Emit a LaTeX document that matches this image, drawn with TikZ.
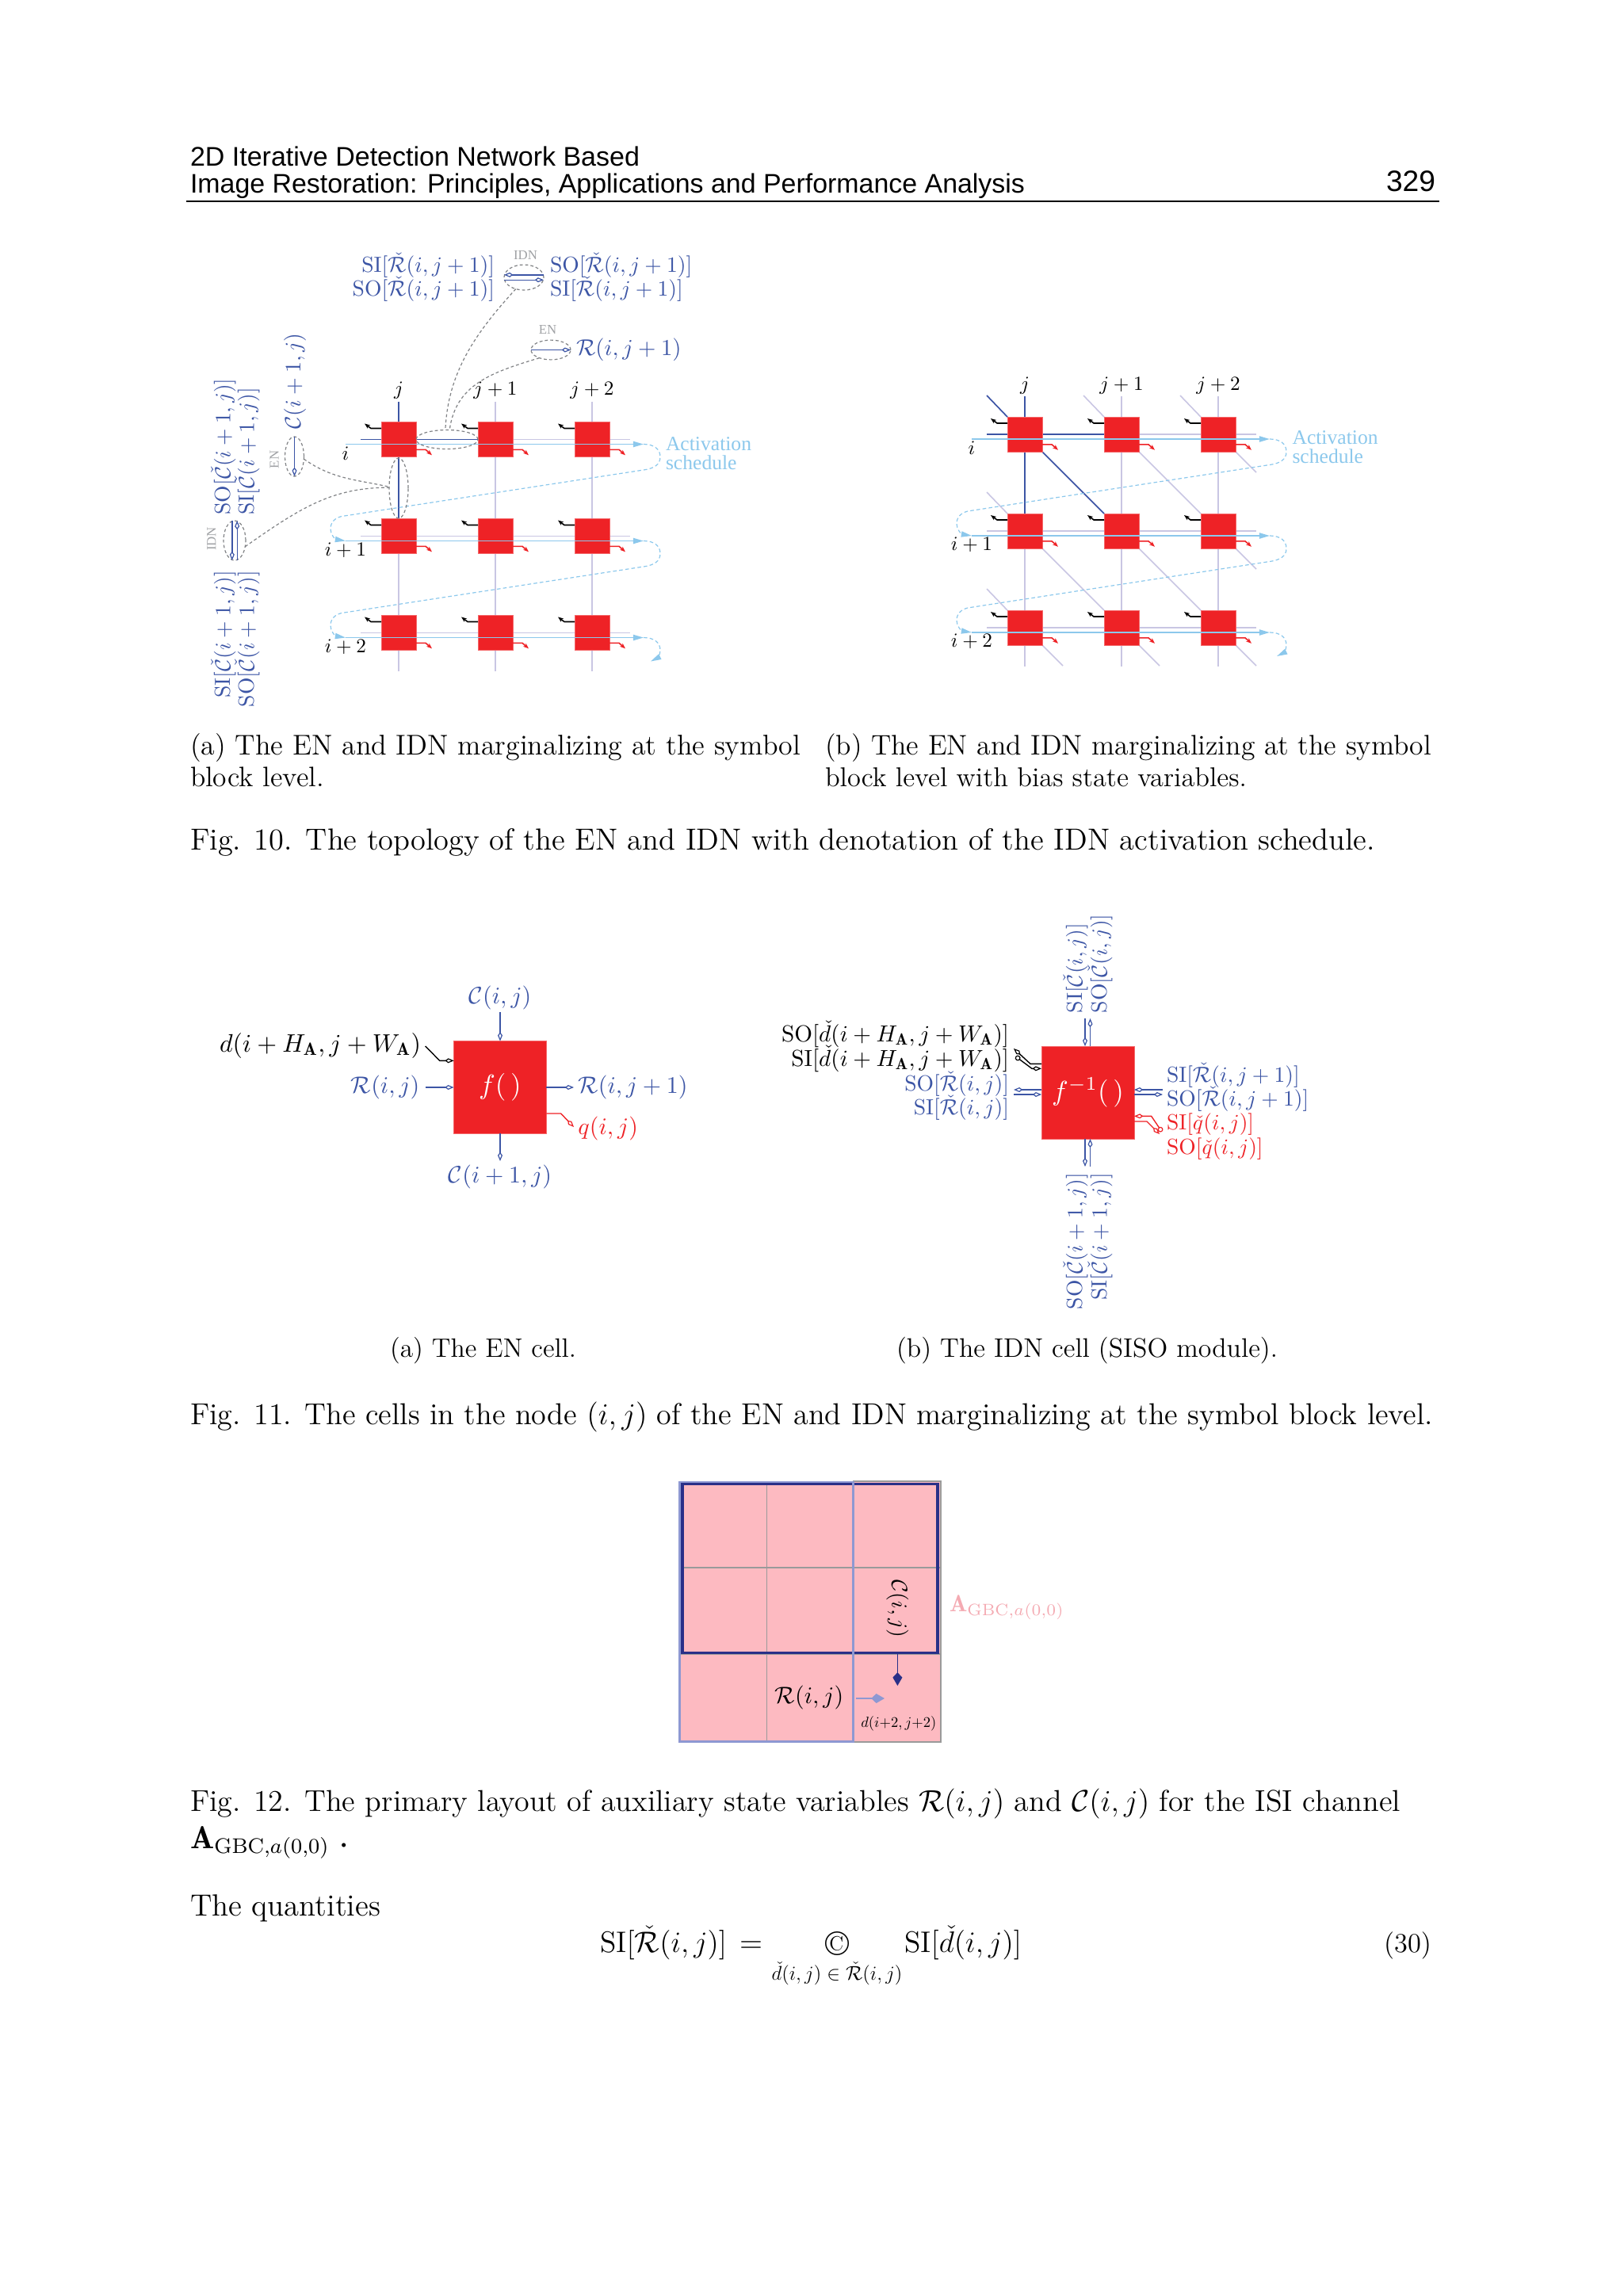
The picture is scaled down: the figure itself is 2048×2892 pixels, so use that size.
\documentclass[tikz,border=0pt]{standalone}
\usepackage{fix-cm}
\usepackage{graphicx}
\usepackage{amsmath}
\usepackage{fontspec}
\newfontfamily\hdrfont{Liberation Sans}
\newfontfamily\smallserif{Liberation Serif}
\usetikzlibrary{arrows.meta,shapes.geometric,backgrounds}
\definecolor{cellred}{HTML}{EE2226}
\definecolor{celledge}{HTML}{F4686A}
\definecolor{inkblue}{HTML}{3C55A5}
\definecolor{gridpurple}{HTML}{C9C6E3}
\definecolor{schedblue}{HTML}{8CC8EC}
\definecolor{notegray}{HTML}{808285}
\definecolor{labelgray}{HTML}{A0A2A5}
\definecolor{boxpink}{HTML}{FDBAC1}
\definecolor{softpink}{HTML}{F4AAB2}
\definecolor{navybox}{HTML}{2A3088}
\definecolor{paleblue}{HTML}{8E98D2}
\definecolor{greyline}{HTML}{9A9A9A}
\newcommand{\fitw}[2]{\resizebox{\dimexpr#1pt/4\relax}{!}{#2}}
% 10pt mathematics scaled down, as the labels of the reference are
\newcommand{\mm}[2]{\scalebox{#1}{\fontsize{10}{12}\selectfont$#2$}}
\newcommand{\mySI}[1]{\mathrm{SI}[#1]}
\newcommand{\mySO}[1]{\mathrm{SO}[#1]}
\newcommand{\cR}{\check{\mathcal R}}
\newcommand{\cC}{\check{\mathcal C}}
\tikzset{
  every node/.style={inner sep=0pt,outer sep=0pt},
  kopen/.tip={Kite[length=2.8pt,width=1.5pt,inset=1pt,fill=white,line width=.3pt]},
  kfill/.tip={Kite[length=4.2pt,width=3pt,inset=1.6pt]},
  copen/.tip={Circle[length=1.7pt,fill=white,line width=.3pt]},
  ktiny/.tip={Stealth[length=1.7pt,width=1.3pt,inset=.4pt]},
  stip/.tip={Stealth[length=3.3pt,width=1.8pt,inset=0pt]},
  cellbox/.style={fill=cellred,draw=celledge,line width=.2pt,minimum width=11pt,minimum height=11pt},
  bigcell/.style={fill=cellred,draw=celledge,line width=.2pt,minimum width=29.2pt,minimum height=29.2pt,text=white},
  gridline/.style={draw=gridpurple,line width=.4pt},
  linkline/.style={draw=inkblue,line width=.4pt},
  schedline/.style={draw=schedblue,line width=.45pt,-{stip}},
  schedcurve/.style={draw=schedblue,line width=.3pt,dash pattern=on 1.15pt off .8pt},
  notecurve/.style={draw=notegray,line width=.3pt,dash pattern=on .95pt off .75pt},
  noteell/.style={ellipse,draw=notegray,line width=.3pt,dash pattern=on .95pt off .75pt},
  inwire/.style={draw=black,line width=.4pt,-{ktiny}},
  outwire/.style={draw=cellred,line width=.4pt,-{ktiny}},
  bluearrow/.style={draw=inkblue,line width=.35pt,-{kopen}},
  blackarrow/.style={draw=black,line width=.35pt,-{kopen}},
  redarrow/.style={draw=cellred,line width=.35pt,-{kopen}},
  lab/.style={text=inkblue},
  dlab/.style={text=black},
  idxlab/.style={text=black},
  graylab/.style={font=\smallserif\fontsize{4.2}{5}\selectfont,text=labelgray},
  schedlab/.style={font=\smallserif\fontsize{6.4}{6.1}\selectfont,text=schedblue,align=left,anchor=west},
  bodytxt/.style={font=\fontsize{12}{14}\selectfont,anchor=base west,text=black},
  hdrtxt/.style={font=\hdrfont\fontsize{10}{12}\selectfont,anchor=base west,text=black},
}
% grid of cells: #1 prefix, #2 first-column x, #3 first-row y
\newcommand{\cellgrid}[3]{%
  \pgfmathsetmacro\xC{#2+244}
  \foreach \rw in {1,2,3}{\foreach \cl in {1,2,3}{
    \node[cellbox] (#1\rw\cl) at ({#2+122*(\cl-1)},{#3+122*(\rw-1)}) {};
  }}
  \foreach \cl/\lbl in {1/j,2/j+1,3/j+2}{
    \coordinate (#1vt\cl) at ({#2+122*(\cl-1)},{#3-48});
    \coordinate (#1vb\cl) at ({#2+122*(\cl-1)},{#3+244+48.5});
    \node[idxlab] (#1col\cl) at ({#2+122*(\cl-1)},{#3-61.5}) {\mm{.63}{\lbl}};
  }
  \foreach \rw/\lbl in {1/i,2/i+1,3/i+2}{
    \coordinate (#1hl\rw) at ({#2-48},{#3+122*(\rw-1)});
    \coordinate (#1hr\rw) at ({\xC+48},{#3+122*(\rw-1)});
    \coordinate (#1st\rw) at ({#2-67},{#3+122*(\rw-1)+6});
    \coordinate (#1en\rw) at ({\xC+65},{#3+122*(\rw-1)+6});
    \node[idxlab] (#1row\rw) at ({#2-67},{#3+122*(\rw-1)+17.5}) {\mm{.63}{\lbl}};
  }
  \begin{scope}[on background layer]
    \foreach \cl in {1,2,3}{\draw[gridline] (#1vt\cl) -- (#11\cl) -- (#12\cl) -- (#13\cl) -- (#1vb\cl);}
    \foreach \rw in {1,2,3}{\draw[gridline] (#1hl\rw) -- (#1\rw1) -- (#1\rw2) -- (#1\rw3) -- (#1hr\rw);}
  \end{scope}
  \foreach \rw in {1,2,3}{\foreach \cl in {1,2,3}{
    \draw[inwire] ([yshift=3.5pt]#1\rw\cl.west) -- ++(-13,0) -- ++(-8,-6);
    \draw[outwire] ([yshift=-3.2pt]#1\rw\cl.east) -- ++(12,0) -- ++(8,7);
  }}
  \foreach \rw in {1,2,3}{\draw[schedline] (#1st\rw) -- (#1en\rw);}
  \foreach \rw/\nx in {1/2,2/3}{
    \pgfmathsetmacro\cy{#3+122*(\rw-1)}
    \draw[schedcurve,-{stip}] (#1en\rw)
      .. controls ({\xC+78},{\cy+6}) and ({\xC+86},{\cy+12}) .. ({\xC+86},{\cy+22})
      .. controls ({\xC+86},{\cy+32}) and ({\xC+78},{\cy+36}) .. ({\xC+68},{\cy+38})
      -- ({#2-72},{\cy+97})
      .. controls ({#2-80},{\cy+99}) and ({#2-86},{\cy+104}) .. ({#2-86},{\cy+113})
      .. controls ({#2-86},{\cy+120}) and ({#2-80},{\cy+126}) .. (#1st\nx);
  }
  \draw[schedcurve,-{stip}] (#1en3)
      .. controls ({\xC+78},{#3+250}) and ({\xC+86},{#3+256}) .. ({\xC+86},{#3+266})
      .. controls ({\xC+86},{#3+272}) and ({\xC+82},{#3+276}) .. ({\xC+74},{#3+280});
}
\begin{document}
\begin{tikzpicture}[x=0.25pt,y=-0.25pt]
\useasboundingbox (0,0) rectangle (2048,2892);
% ---------- page header
\node[hdrtxt] (h1) at (240,209.5) {\fitw{567}{2D Iterative Detection Network Based}};
\node[hdrtxt] (h2) at (240,243) {\fitw{1053}{Image Restoration: Principles, Applications and Performance Analysis}};
\node[hdrtxt] (h3) at (1749,241) {\fitw{62}{329}};
\coordinate (ruleL) at (235,254); \coordinate (ruleR) at (1816,254);
\draw[line width=.4pt] (ruleL) -- (ruleR);
% ---------- Fig 10 (a)
\cellgrid{a}{503}{554.5}
\begin{scope}[on background layer]
  \draw[linkline] (avt1) -- (a11) -- (a21);
  \draw[linkline] (ahl1) -- (a11) -- (a12);
\end{scope}
\node[schedlab] (aact) at (840,572) {Activation\\schedule};
\node[lab,anchor=east] (sR1) at (624,335) {\mm{.69}{\mySI{\cR(i,j+1)}}};
\node[lab,anchor=east] (sR2) at (624,365) {\mm{.69}{\mySO{\cR(i,j+1)}}};
\node[lab,anchor=west] (sR3) at (694,335) {\mm{.69}{\mySO{\cR(i,j+1)}}};
\node[lab,anchor=west] (sR4) at (694,365) {\mm{.69}{\mySI{\cR(i,j+1)}}};
\node[noteell,minimum width=12.5pt,minimum height=8pt] (idnT) at (661,350) {};
\node[graylab] (idnTl) at (663,322) {IDN};
\draw[bluearrow] ([yshift=.8pt]idnT.east) -- ([yshift=.8pt]idnT.west);
\draw[bluearrow] ([yshift=-.8pt]idnT.west) -- ([yshift=-.8pt]idnT.east);
\node[noteell,minimum width=12.5pt,minimum height=6.2pt] (enT) at (695,441.5) {};
\node[graylab] (enTl) at (691,415.5) {EN};
\draw[bluearrow] (enT.west) -- (enT.east);
\node[lab,anchor=west] (rT) at (727,441) {\mm{.72}{\mathcal R(i,j+1)}};
\node[noteell,minimum width=19.5pt,minimum height=6pt] (hE) at (564,554.5) {};
\node[noteell,minimum width=6pt,minimum height=19pt] (vE) at (503,616) {};
\draw[notecurve] (idnT.235) .. controls (600,420) and (565,470) .. (hE.100);
\draw[notecurve] (enT.215) .. controls (620,470) and (575,485) .. (hE.75);
\node[lab,rotate=90] (cL) at (372,481) {\mm{.7}{\mathcal C(i+1,j)}};
\node[noteell,minimum width=6pt,minimum height=12.5pt] (enL) at (371.5,576) {};
\draw[bluearrow] (enL.north) -- (enL.south);
\node[graylab,rotate=90] (enLl) at (346,580) {EN};
\node[lab,rotate=90,anchor=west] (sC1) at (282,649.4) {\mm{.69}{\mySO{\cC(i+1,j)}}};
\node[lab,rotate=90,anchor=west] (sC2) at (312,649.4) {\mm{.69}{\mySI{\cC(i+1,j)}}};
\node[noteell,minimum width=7pt,minimum height=12.5pt] (idnL) at (296,682) {};
\draw[bluearrow] ([xshift=-.8pt]idnL.north) -- ([xshift=-.8pt]idnL.south);
\draw[bluearrow] ([xshift=.8pt]idnL.south) -- ([xshift=.8pt]idnL.north);
\node[graylab,rotate=90] (idnLl) at (267,680) {IDN};
\node[lab,rotate=90,anchor=east] (sC3) at (282,720) {\mm{.69}{\mySI{\cC(i+1,j)}}};
\node[lab,rotate=90,anchor=east] (sC4) at (312,720) {\mm{.69}{\mySO{\cC(i+1,j)}}};
\draw[notecurve] (enL.-15) .. controls (420,605) and (450,605) .. (vE.172);
\draw[notecurve] (idnL.-30) .. controls (380,640) and (420,615) .. (vE.176);
\node[bodytxt] (ca1) at (240,952) {\fitw{770}{(a) The EN and IDN marginalizing at the symbol}};
\node[bodytxt] (ca2) at (240,992) {\fitw{169}{block level.}};
% ---------- Fig 10 (b)
\cellgrid{b}{1293}{548}
\foreach \rw/\nr in {1/2,2/3}{\foreach \cl/\nc in {1/2,2/3}{
  \begin{scope}[on background layer]
    \draw[gridline] (b\rw\cl.south east) -- (b\nr\nc.north west);
  \end{scope}
}}
\foreach \rw in {1,2,3}{\foreach \cl in {1,2,3}{
  \coordinate (bnw\rw\cl) at ({1293+122*(\cl-1)-48},{548+122*(\rw-1)-49});
  \coordinate (bse\rw\cl) at ({1293+122*(\cl-1)+48},{548+122*(\rw-1)+48});
}}
\begin{scope}[on background layer]
  \foreach \n in {11,12,13,21,31}{\draw[gridline] (bnw\n) -- (b\n.north west);}
  \foreach \n in {13,23,33,31,32}{\draw[gridline] (b\n.south east) -- (bse\n);}
  \draw[linkline] (bvt1) -- (b11) -- (b21);
  \draw[linkline] (bhl1) -- (b11) -- (b12);
  \draw[linkline] (bnw11) -- (b11.north west);
  \draw[linkline] (b11.south east) -- (b22.north west);
\end{scope}
\node[schedlab] (bact) at (1630.5,564) {Activation\\schedule};
\node[bodytxt] (cb1) at (1041,952) {\fitw{765}{(b) The EN and IDN marginalizing at the symbol}};
\node[bodytxt] (cb2) at (1041,992) {\fitw{532}{block level with bias state variables.}};
\node[bodytxt] (f10) at (240,1072) {\fitw{1495}{Fig. 10. The topology of the EN and IDN with denotation of the IDN activation schedule.}};
% ---------- Fig 11 (a)
\node[bigcell] (enc) at (631,1372) {\mm{.87}{f(\,)}};
\node[lab] (eC1) at (631,1259) {\mm{.75}{\mathcal C(i,j)}};
\node[lab] (eC2) at (631,1485) {\mm{.75}{\mathcal C(i+1,j)}};
\node[lab,anchor=east] (eR1) at (529.4,1372) {\mm{.75}{\mathcal R(i,j)}};
\node[lab,anchor=west] (eR2) at (729.4,1372) {\mm{.75}{\mathcal R(i,j+1)}};
\node[dlab,anchor=east] (eD) at (531,1319) {\mm{.8}{d(i+H_{\mathbf A},j+W_{\mathbf A})}};
\node[lab,anchor=west,text=cellred] (eQ) at (729.4,1424) {\mm{.75}{q(i,j)}};
\coordinate (e1) at (631,1277); \coordinate (e2) at (631,1465);
\coordinate (e3) at (536.7,1372); \coordinate (e4) at (724,1372);
\coordinate (e5) at (536.7,1320); \coordinate (e6) at (554.7,1338.3); \coordinate (e7) at (572.7,1338.3);
\coordinate (e8) at (689.4,1405); \coordinate (e9) at (707.7,1405); \coordinate (e10) at (724,1422);
\draw[bluearrow] (e1) -- (enc.north);
\draw[bluearrow] (enc.south) -- (e2);
\draw[bluearrow] (e3) -- (enc.west);
\draw[bluearrow] (enc.east) -- (e4);
\draw[blackarrow] (e5) -- (e6) -- (e7);
\draw[redarrow] (e8) -- (e9) -- (e10);
\node[bodytxt] (c11a) at (492,1712) {\fitw{235}{(a) The EN cell.}};
% ---------- Fig 11 (b)
\node[bigcell] (idn) at (1372.5,1378.5) {\mm{.87}{f^{-1}(\,)}};
\node[lab,rotate=90,anchor=west] (t1) at (1357,1278) {\mm{.69}{\mySI{\cC(i,j)}}};
\node[lab,rotate=90,anchor=west] (t2) at (1388,1278) {\mm{.69}{\mySO{\cC(i,j)}}};
\node[lab,rotate=90,anchor=east] (t3) at (1357,1480) {\mm{.69}{\mySO{\cC(i+1,j)}}};
\node[lab,rotate=90,anchor=east] (t4) at (1388,1480) {\mm{.69}{\mySI{\cC(i+1,j)}}};
\node[dlab,anchor=east] (l1) at (1273,1305) {\mm{.73}{\mySO{\check d(i+H_{\mathbf A},j+W_{\mathbf A})}}};
\node[dlab,anchor=east] (l2) at (1273,1336) {\mm{.73}{\mySI{\check d(i+H_{\mathbf A},j+W_{\mathbf A})}}};
\node[lab,anchor=east] (l3) at (1273,1368) {\mm{.69}{\mySO{\cR(i,j)}}};
\node[lab,anchor=east] (l4) at (1273,1398) {\mm{.69}{\mySI{\cR(i,j)}}};
\node[lab,anchor=west] (r1) at (1472,1357) {\mm{.69}{\mySI{\cR(i,j+1)}}};
\node[lab,anchor=west] (r2) at (1472,1387) {\mm{.69}{\mySO{\cR(i,j+1)}}};
\node[lab,anchor=west,text=cellred] (r3) at (1472,1419) {\mm{.69}{\mySI{\check q(i,j)}}};
\node[lab,anchor=west,text=cellred] (r4) at (1472,1450) {\mm{.69}{\mySO{\check q(i,j)}}};
\coordinate (u1) at (1369,1285); \coordinate (u2) at (1375.5,1285);
\coordinate (u3) at (1369,1472); \coordinate (u4) at (1375.5,1472);
\coordinate (u5) at (1279,1375); \coordinate (u6) at (1279,1381);
\coordinate (u7) at (1467,1375); \coordinate (u8) at (1467,1381);
\draw[bluearrow] (u1) -- (u1 |- idn.north);
\draw[bluearrow] (u2 |- idn.north) -- (u2);
\draw[bluearrow] (u3 |- idn.south) -- (u3);
\draw[bluearrow] (u4) -- (u4 |- idn.south);
\draw[bluearrow] (u5 -| idn.west) -- (u5);
\draw[bluearrow] (u6) -- (u6 -| idn.west);
\draw[bluearrow] (u7) -- (u7 -| idn.east);
\draw[bluearrow] (u8 -| idn.east) -- (u8);
\coordinate (k1) at (1314,1342.3); \coordinate (k2) at (1300,1342.3); \coordinate (k3) at (1279,1323);
\coordinate (k4) at (1281.4,1333); \coordinate (k5) at (1302,1348.3); \coordinate (k6) at (1314,1348.3);
\draw[blackarrow] (k1) -- (k2) -- (k3);
\draw[blackarrow,{copen}-{kopen}] (k4) -- (k5) -- (k6);
\coordinate (q1) at (1466,1428); \coordinate (q2) at (1452.6,1408.3); \coordinate (q3) at (1431,1408.3);
\coordinate (q4) at (1431,1415); \coordinate (q5) at (1447,1415); \coordinate (q6) at (1463,1431);
\draw[redarrow,{copen}-{kopen}] (q1) -- (q2) -- (q3);
\draw[redarrow] (q4) -- (q5) -- (q6);
\node[bodytxt] (c11b) at (1131,1712) {\fitw{481}{(b) The IDN cell (SISO module).}};
\node[bodytxt] (f11) at (240,1797) {\fitw{1568}{Fig. 11. The cells in the node $(i,j)$ of the EN and IDN marginalizing at the symbol block level.}};
% ---------- Fig 12
\fill[boxpink] (857,1869) rectangle (1187,2198);
\draw[greyline,line width=.3pt] (967.6,1869) -- (967.6,2198);
\draw[greyline,line width=.3pt] (857,1978) -- (1187,1978);
\draw[greyline,line width=.3pt] (857,2087) -- (1187,2087);
\draw[greyline,line width=.4pt] (1077,1869) rectangle (1187,2198);
\node[draw=navybox,line width=.8pt,minimum width=80.5pt,minimum height=53.2pt] (sbC) at (1022,1978.7) {};
\node[draw=paleblue,line width=.7pt,minimum width=54.6pt,minimum height=81.8pt] (sbR) at (967,2033.5) {};
\node[rotate=-90,text=black] (txC) at (1132.4,2030) {\mm{.7}{\mathcal C(i,j)}};
\node[text=black] (txR) at (1021,2141.7) {\mm{.75}{\mathcal R(i,j)}};
\node[text=black] (txd) at (1133.8,2175) {\fitw{95}{\fontsize{10}{12}\selectfont$d(i{+}2,j{+}2)$}};
\node[text=softpink,anchor=west] (txA) at (1198,2028) {\fitw{145}{\fontsize{10}{12}\selectfont$\mathbf{A}_{\mathrm{GBC},a(0,0)}$}};
\coordinate (c1) at (1132.4,2086); \coordinate (c2) at (1132.4,2127);
\coordinate (c3) at (1079.7,2143); \coordinate (c4) at (1116,2143);
\draw[draw=navybox,fill=navybox,line width=.4pt,-{kfill}] (c1) -- (c2);
\draw[draw=paleblue,fill=paleblue,line width=.3pt,-{kfill}] (c3) -- (c4);
\node[bodytxt] (f12) at (240,2285) {\fitw{1527}{Fig. 12. The primary layout of auxiliary state variables $\mathcal R(i,j)$ and $\mathcal C(i,j)$ for the ISI channel}};
\node[bodytxt] (f12b) at (240,2332) {\fitw{176}{$\mathbf{A}_{\mathrm{GBC},a(0,0)}$}};
\node[bodytxt,anchor=center] (f12c) at (434,2330) {$\cdot$};
\node[bodytxt] (quant) at (240,2417) {\fitw{240}{The quantities}};
\node[bodytxt] (eq1) at (757,2463) {\fitw{160}{$\mathrm{SI}[\check{\mathcal R}(i,j)]$}};
\node[bodytxt] (eq2) at (933,2463) {\fitw{29}{$=$}};
\node[font=\fontsize{11}{13}\selectfont] (eq3) at (1057,2452) {\textcopyright};
\node[bodytxt] (eq4) at (1141,2463) {\fitw{148}{$\mathrm{SI}[\check d(i,j)]$}};
\node[bodytxt,anchor=base] (eq5) at (1056,2498) {\fitw{165}{$\check d(i,j)\in\check{\mathcal R}(i,j)$}};
\node[bodytxt] (eq6) at (1746,2463) {\fitw{60}{(30)}};
\end{tikzpicture}
\end{document}
